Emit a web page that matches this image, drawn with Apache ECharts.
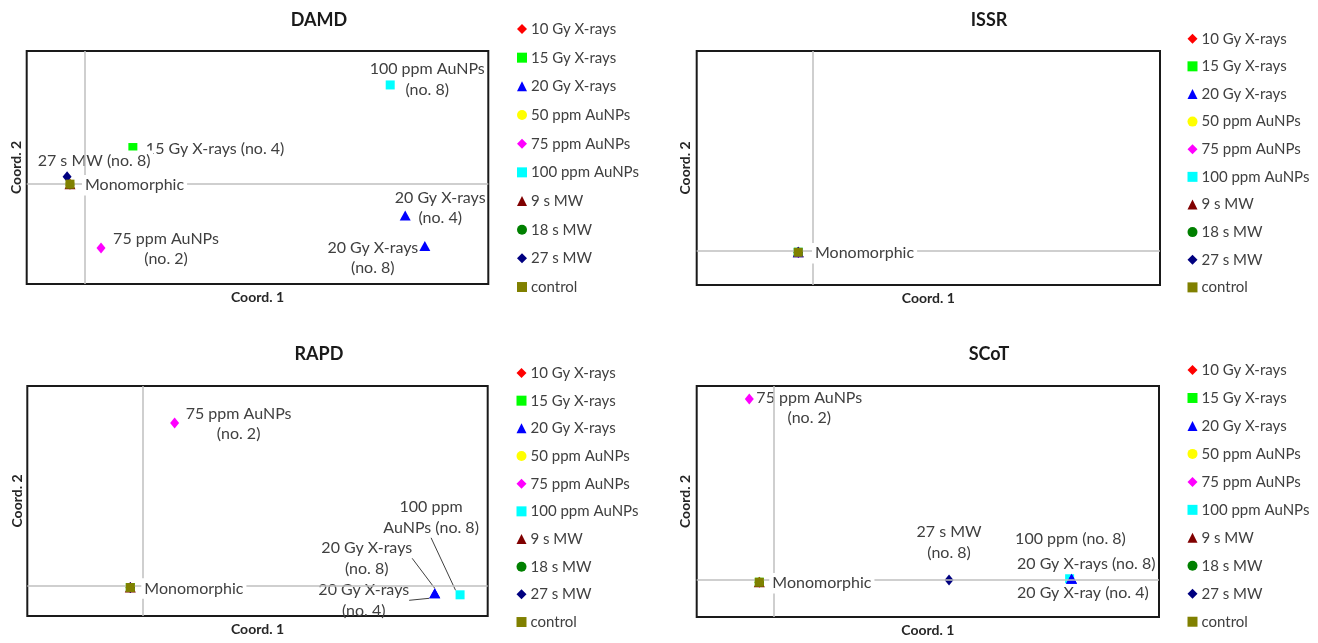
<!DOCTYPE html>
<html><head><meta charset="utf-8">
<script src="https://cdn.jsdelivr.net/npm/echarts@6/dist/echarts.min.js"></script>
<style>html,body{margin:0;padding:0;background:#fff}#c{width:1318px;height:643px}</style>
</head><body><div id="c"></div>
<script>
// ---------------- DATA ----------------
const seriesNames = ['10 Gy X-rays','15 Gy X-rays','20 Gy X-rays','50 ppm AuNPs','75 ppm AuNPs','100 ppm AuNPs','9 s MW','18 s MW','27 s MW','control'];
const panelTitles = ['DAMD','ISSR','RAPD','SCoT'];
const xAxisName = 'Coord. 1';
const yAxisName = 'Coord. 2';

// DAMD
const damdGroup = [0,3,6,7,9,1,2,2,4,5,8];
const damdX = [-0.0125,-0.0125,-0.0125,-0.0125,-0.0125,0.042,0.278,0.295,0.0144,0.265,-0.015];
const damdY = [0,0,0,0,0,0.055,-0.047,-0.093,-0.096,0.149,0.011];
const damdText = ['','','','','Monomorphic','15 Gy X-rays (no. 4)','20 Gy X-rays\n(no. 4)','20 Gy X-rays\n(no. 8)','75 ppm AuNPs\n(no. 2)','100 ppm AuNPs\n(no. 8)','27 s MW (no. 8)'];
const damdXRange = [-0.05, 0.35];
const damdYRange = [-0.15, 0.2];

// ISSR
const issrGroup = [0,1,2,3,4,5,6,7,8,9];
const issrX = [-0.123,-0.123,-0.123,-0.123,-0.123,-0.123,-0.123,-0.123,-0.123,-0.123];
const issrY = [-0.05,-0.05,-0.05,-0.05,-0.05,-0.05,-0.05,-0.05,-0.05,-0.05];
const issrText = ['','','','','','','','','','Monomorphic'];
const issrXRange = [-1, 3];
const issrYRange = [-1, 5.8];

// RAPD
const rapdGroup = [0,1,3,6,7,8,9,4,5,2,2];
const rapdX = [-0.0105,-0.0105,-0.0105,-0.0105,-0.0105,-0.0105,-0.0105,0.028,0.276,0.254,0.254];
const rapdY = [-0.003,-0.003,-0.003,-0.003,-0.003,-0.003,-0.003,0.269,-0.015,-0.0125,-0.0125];
const rapdText = ['','','','','','','Monomorphic','75 ppm AuNPs\n(no. 2)','100 ppm\nAuNPs (no. 8)','20 Gy X-rays\n(no. 8)','20 Gy X-rays\n(no. 4)'];
const rapdXRange = [-0.1, 0.3];
const rapdYRange = [-0.05, 0.33];

// SCoT
const scotGroup = [0,1,3,6,7,9,4,8,5,2,2];
const scotX = [-0.0375,-0.0375,-0.0375,-0.0375,-0.0375,-0.0375,-0.0635,0.455,0.768,0.773,0.773];
const scotY = [-0.012,-0.012,-0.012,-0.012,-0.012,-0.012,0.980,0.0,0.007,0.007,0.007];
const scotText = ['','','','','','Monomorphic','75 ppm AuNPs\n(no. 2)','27 s MW\n(no. 8)','100 ppm (no. 8)','20 Gy X-rays (no. 8)','20 Gy X-ray (no. 4)'];
const scotXRange = [-0.2, 1.0];
const scotYRange = [-0.2, 1.05];

// ---------------- STYLE / LAYOUT ----------------
const symbols = ['diamond','rect','triangle','circle','diamond','rect','triangle','circle','diamond','rect'];
const symbolSizes = [[9,11],9,[11,10],9,[9,11],9,[11,10],9,[9,11],9];
const colors = ['#ff0000','#00ff00','#0000ff','#ffff00','#ff00ff','#00ffff','#800000','#008000','#000080','#808000'];
const zOrder = [3,3,4,3,3,3,3,3,3,5];
const FONT = 'Lato, "Open Sans", sans-serif';
const TXT = '#404040';

const gridRects = [[26.7,51,461.6,233],[696.7,51,463.3,234],[27.3,386,460.4,230],[696.7,386,462.3,231]];
const titlePos = [[319,9],[989,9],[319,343],[989,343]];
const legendPos = [[517,20,10.67],[1187.5,29.7,9.63],[516.5,364,9.67],[1187.5,361,9.97]];
const yNameGap = [3,4,3,4];

// label layout per point (pixels relative to the marker centre): [dx, dy, align, whiteBackground, leaderLine]
const damdLab = [null,null,null,null,[12,1,'left',1,0],[13,1,'left',0,0],[35,-7.5,'center',0,0],[-52,12,'center',0,0],[65,1,'center',0,0],[37,-5.5,'center',0,0],[27,-16,'center',1,0]];
const issrLab = [null,null,null,null,null,null,null,null,null,[13.7,1,'left',1,0]];
const rapdLab = [null,null,null,null,null,null,[11,1,'left',1,0],[64,1,'center',0,0],[-29,-77.5,'center',0,1],[-68,-35,'center',0,1],[-71,7,'center',0,1]];
const scotLab = [null,null,null,null,null,[10,1,'left',1,0],[60,9,'center',0,0],[0,-37.5,'center',0,0],[-54.5,-40,'left',0,0],[-54.5,-15,'left',0,0],[-54.5,14,'left',0,0]];

const panels = [
  {g: damdGroup, x: damdX, y: damdY, t: damdText, xr: damdXRange, yr: damdYRange, lab: damdLab},
  {g: issrGroup, x: issrX, y: issrY, t: issrText, xr: issrXRange, yr: issrYRange, lab: issrLab},
  {g: rapdGroup, x: rapdX, y: rapdY, t: rapdText, xr: rapdXRange, yr: rapdYRange, lab: rapdLab},
  {g: scotGroup, x: scotX, y: scotY, t: scotText, xr: scotXRange, yr: scotYRange, lab: scotLab}
];

const grid = [], xAxis = [], yAxis = [], title = [], legend = [], series = [];
const layoutLookup = {};

function labelLayoutFn(params) {
  const m = layoutLookup[params.seriesIndex];
  if (!m || !m[params.dataIndex]) return {};
  const L = m[params.dataIndex];
  const cx = params.rect.x + params.rect.width / 2;
  const cy = params.rect.y + params.rect.height / 2;
  return {x: cx + L[0], y: cy + L[1], align: L[2], verticalAlign: 'middle'};
}

panels.forEach((p, pi) => {
  const r = gridRects[pi];
  grid.push({left: r[0], top: r[1], width: r[2], height: r[3], show: true, borderColor: '#1a1a1a', borderWidth: 2, backgroundColor: 'transparent', containLabel: false});
  xAxis.push({type: 'value', gridIndex: pi, min: p.xr[0], max: p.xr[1], name: xAxisName, nameLocation: 'middle', nameGap: 6,
    nameTextStyle: {fontFamily: FONT, fontSize: 14, fontWeight: 'bold', color: '#262626'},
    axisLine: {show: false, onZero: false}, axisTick: {show: false}, axisLabel: {show: false}, splitLine: {show: false}});
  yAxis.push({type: 'value', gridIndex: pi, min: p.yr[0], max: p.yr[1], name: yAxisName, nameLocation: 'middle', nameGap: yNameGap[pi],
    nameTextStyle: {fontFamily: FONT, fontSize: 14, fontWeight: 'bold', color: '#262626'},
    axisLine: {show: false, onZero: false}, axisTick: {show: false}, axisLabel: {show: false}, splitLine: {show: false}});
  title.push({text: panelTitles[pi], left: titlePos[pi][0], top: titlePos[pi][1], textAlign: 'center', padding: 0,
    textStyle: {fontFamily: FONT, fontSize: 18, fontWeight: 'bold', color: '#1a1a1a', lineHeight: 22}});
  legend.push({data: seriesNames, orient: 'vertical', left: legendPos[pi][0], top: legendPos[pi][1], itemGap: legendPos[pi][2], padding: 0,
    itemWidth: 10, itemHeight: 10, selectedMode: false,
    textStyle: {fontFamily: FONT, fontSize: 15, color: TXT, lineHeight: 18, padding: [0,0,0,-1]}});

  // zero lines
  series.push({type: 'scatter', xAxisIndex: pi, yAxisIndex: pi, data: [], z: 1, silent: true,
    markLine: {silent: true, symbol: 'none', animation: false, label: {show: false},
      lineStyle: {color: '#bfbfbf', width: 1.5, type: 'solid'}, data: [{xAxis: 0}, {yAxis: 0}]}});

  seriesNames.forEach((nm, si) => {
    const data = [];
    const sIndex = series.length;
    p.g.forEach((gi, k) => {
      if (gi !== si) return;
      const L = p.lab[k];
      const item = {value: [p.x[k], p.y[k]]};
      if (p.t[k] && L) {
        item.label = {show: true, formatter: p.t[k], position: 'inside',
          align: L[2], verticalAlign: 'middle', fontFamily: FONT, fontSize: 16, lineHeight: 20.5, color: TXT,
          backgroundColor: L[3] ? '#ffffff' : 'transparent', padding: L[3] ? [0, 3] : 0};
        if (L[4]) item.labelLine = {show: true, lineStyle: {color: '#404040', width: 1}};
        layoutLookup[sIndex] = layoutLookup[sIndex] || {};
        layoutLookup[sIndex][data.length] = L;
      }
      data.push(item);
    });
    series.push({type: 'scatter', name: nm, xAxisIndex: pi, yAxisIndex: pi, symbol: symbols[si], symbolSize: symbolSizes[si],
      itemStyle: {color: colors[si], opacity: 1}, z: zOrder[si], data: data,
      label: {show: false}, labelLine: {show: false},
      emphasis: {disabled: true},
      labelLayout: labelLayoutFn});
  });
});

const chart = echarts.init(document.getElementById('c'));
chart.setOption({animation: false, backgroundColor: '#ffffff', title, legend, grid, xAxis, yAxis, series});
</script></body></html>
